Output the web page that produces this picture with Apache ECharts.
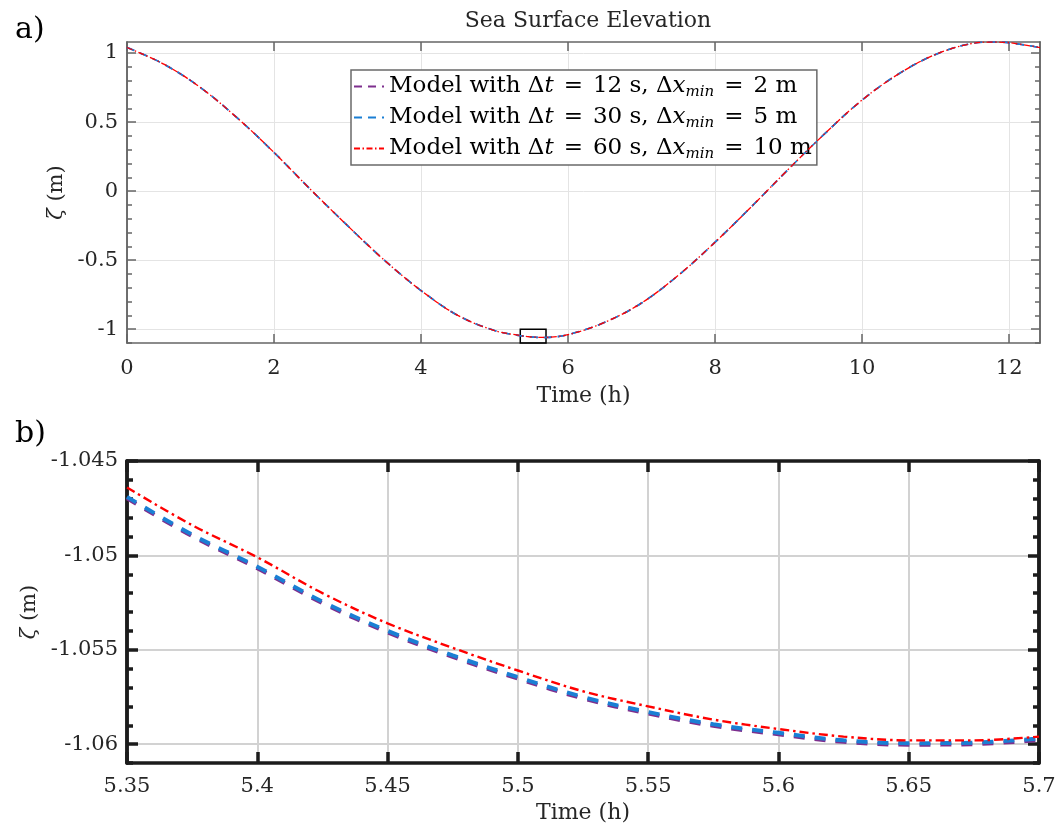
<!DOCTYPE html>
<html><head><meta charset="utf-8">
<script src="https://cdn.jsdelivr.net/npm/echarts@6/dist/echarts.min.js"></script>
<style>html,body{margin:0;padding:0;background:#fff}#c{width:1059px;height:832px}</style>
</head><body><div id="c"></div>
<script>
// ---- data ----
// Panel a: full tidal cycle (all three runs coincide at this scale)
const tFull    = [0, 0.5, 1, 1.5, 2, 2.5, 3, 3.5, 4, 4.5, 5, 5.5, 6, 6.5, 7, 7.5, 8, 8.5, 9, 9.5, 10, 10.5, 11, 11.5, 11.8, 12, 12.42];
const zetaFull = [1.04, 0.92, 0.75, 0.53, 0.28, 0.01, -0.25, -0.50, -0.72, -0.90, -1.01, -1.058, -1.04, -0.95, -0.81, -0.61, -0.37, -0.11, 0.16, 0.42, 0.66, 0.85, 0.99, 1.07, 1.08, 1.075, 1.04];
// Panel b: zoom near the trough
const tZoom      = [5.35, 5.375, 5.4, 5.425, 5.45, 5.475, 5.5, 5.525, 5.55, 5.575, 5.6, 5.625, 5.65, 5.675, 5.7];
const zetaDt12   = [-1.04698, -1.04898, -1.05068, -1.05253, -1.05408, -1.05538, -1.05653, -1.05758, -1.05838, -1.05903, -1.05948, -1.05988, -1.06003, -1.06000, -1.05978];
const zetaDt30   = [-1.0469, -1.0489, -1.0506, -1.05245, -1.0540, -1.0553, -1.05645, -1.0575, -1.0583, -1.05895, -1.0594, -1.0598, -1.05995, -1.05992, -1.0597];
const zetaDt60   = [-1.0464, -1.0484, -1.0501, -1.0520, -1.0536, -1.0549, -1.0561, -1.0572, -1.0580, -1.0587, -1.0592, -1.0596, -1.0598, -1.0598, -1.0596];
const dtValues = [12, 30, 60];
const dxValues = [2, 5, 10];
// ticks
const xTicksA = [0, 2, 4, 6, 8, 10, 12];
const yTicksA = [-1, -0.5, 0, 0.5, 1];
const yMinorA = [-1.1, -1.0, -0.9, -0.8, -0.7, -0.6, -0.5, -0.4, -0.3, -0.2, -0.1, 0, 0.1, 0.2, 0.3, 0.4, 0.5, 0.6, 0.7, 0.8, 0.9, 1.0];
const xTicksB = [5.35, 5.4, 5.45, 5.5, 5.55, 5.6, 5.65, 5.7];
const yTicksB = [-1.06, -1.055, -1.05, -1.045];
const yMinorB = [-1.061, -1.06, -1.059, -1.058, -1.057, -1.056, -1.055, -1.054, -1.053, -1.052, -1.051, -1.05, -1.049, -1.048, -1.047, -1.046, -1.045];
const rangeA = {xmin: 0, xmax: 12.42, ymin: -1.1, ymax: 1.08};
const rangeB = {xmin: 5.35, xmax: 5.7, ymin: -1.061, ymax: -1.045};
const zoomBox = [5.35, 5.7, -1.1, -1.0];

// ---- build ----
const FONT = 'DejaVu Serif';
const names = dtValues.map((dt, i) => 'Model with Δt = ' + dt + ' s, Δxmin = ' + dxValues[i] + ' m');
const zoomSets = [zetaDt12, zetaDt30, zetaDt60];
function pairs(xs, ys) { return xs.map((x, i) => [x, ys[i]]); }
function fullSeries(k) {
  const outside = pairs(tFull, zetaFull).filter(p => p[0] < tZoom[0] - 0.05 || p[0] > tZoom[tZoom.length - 1] + 0.05);
  const inside = pairs(tZoom, zoomSets[k]);
  return outside.concat(inside).sort((a, b) => a[0] - b[0]);
}
const colors = ['#7E2F8E', '#1a7fd4', '#FF0000'];
const dashTop = [[8, 6], [8, 6], [6, 2.5, 1.5, 2.5]];
const dashBot = [[11, 10], [11, 10], [9, 4, 2.5, 4]];
const widthTop = [1.6, 1.6, 1.3];
const widthBot = [4, 4, 2.4];

const axA = '#666666', gridA = '#e4e4e4';
const axB = '#1c1c1c', gridB = '#d2d2d2';
const labelStyle = (c) => ({color: c, fontFamily: FONT, fontSize: 21});

function xMain(gi, r, ticks, axc, axw, gc, gw, tlen, margin, nameGap) {
  return {type: 'value', gridIndex: gi, min: r.xmin, max: r.xmax, position: 'bottom',
    axisLine: {show: true, onZero: false, lineStyle: {color: axc, width: axw}},
    axisTick: {show: true, inside: true, length: tlen, customValues: ticks, lineStyle: {color: axc, width: axw}},
    axisLabel: Object.assign({customValues: ticks, margin: margin}, labelStyle('#262626')),
    splitLine: {show: true, lineStyle: {color: gc, width: gw}},
    name: 'Time (h)', nameLocation: 'middle', nameGap: nameGap,
    nameTextStyle: {fontFamily: FONT, fontSize: 22, color: '#262626'}};
}
function xTop(gi, r, ticks, axc, axw, tlen) {
  return {type: 'value', gridIndex: gi, min: r.xmin, max: r.xmax, position: 'top',
    axisLine: {show: true, onZero: false, lineStyle: {color: axc, width: axw}},
    axisTick: {show: true, inside: true, length: tlen, customValues: ticks, lineStyle: {color: axc, width: axw}},
    axisLabel: {show: false}, splitLine: {show: false}};
}
function yAx(gi, r, pos, ticks, axc, axw, tlen, withLabel, gc, gw, nameGap) {
  const o = {type: 'value', gridIndex: gi, min: r.ymin, max: r.ymax, position: pos,
    axisLine: {show: true, onZero: false, lineStyle: {color: axc, width: axw}},
    axisTick: {show: true, inside: true, length: tlen, customValues: ticks, lineStyle: {color: axc, width: axw}},
    axisLabel: {show: false}, splitLine: {show: false}};
  if (withLabel) {
    o.axisLabel = Object.assign({show: true, customValues: ticks, margin: 9}, labelStyle('#262626'));
    o.splitLine = {show: true, lineStyle: {color: gc, width: gw}};
    o.name = '{it|ζ} (m)'; o.nameLocation = 'middle'; o.nameGap = nameGap;
    o.nameTextStyle = {fontFamily: FONT, fontSize: 21, color: '#262626',
      rich: {it: {fontFamily: FONT, fontSize: 21, fontStyle: 'italic', color: '#262626'}}};
  }
  return o;
}

const series = [];
for (let k = 0; k < 3; k++) {
  const s = {name: names[k], type: 'line', xAxisIndex: 0, yAxisIndex: 0, data: fullSeries(k),
    smooth: 0.35, symbol: 'none', showSymbol: false, color: colors[k],
    lineStyle: {color: colors[k], width: widthTop[k], type: dashTop[k]}, z: 3 + k};
  if (k === 2) {
    s.markArea = {silent: true, itemStyle: {color: 'rgba(0,0,0,0)', borderColor: '#000', borderWidth: 1.5},
      data: [[{xAxis: zoomBox[0], yAxis: zoomBox[2]}, {xAxis: zoomBox[1], yAxis: zoomBox[3]}]]};
  }
  series.push(s);
}
for (let k = 0; k < 3; k++) {
  series.push({name: names[k], type: 'line', xAxisIndex: 2, yAxisIndex: 4, data: pairs(tZoom, zoomSets[k]),
    smooth: 0.35, symbol: 'none', showSymbol: false, color: colors[k],
    lineStyle: {color: colors[k], width: widthBot[k], type: dashBot[k]}, z: 3 + k});
}

const chart = echarts.init(document.getElementById('c'), null, {renderer: 'canvas'});
chart.setOption({
  animation: false,
  backgroundColor: '#ffffff',
  title: [
    {text: 'Sea Surface Elevation', left: 583, top: 5, textAlign: 'center',
      textStyle: {fontFamily: FONT, fontSize: 22, fontWeight: 'normal', color: '#262626'}},
    {text: 'a)', left: 10, top: 10, textStyle: {fontFamily: FONT, fontSize: 30, fontWeight: 'normal', color: '#000'}},
    {text: 'b)', left: 10, top: 414, textStyle: {fontFamily: FONT, fontSize: 30, fontWeight: 'normal', color: '#000'}}
  ],
  legend: {
    data: names, orient: 'vertical', left: 351, top: 70, selectedMode: false,
    backgroundColor: '#fff', borderColor: '#6a6a6a', borderWidth: 1.5, borderRadius: 0,
    padding: [3, 5, 3, 2], itemGap: 4, itemWidth: 30, itemHeight: 14,
    itemStyle: {opacity: 0},
    formatter: function (name) {
      const i = names.indexOf(name);
      return 'Model with Δ{it|t}{eq|=}' + dtValues[i] + ' s, Δ{it|x}{sub|min}{eq|=}' + dxValues[i] + ' m';
    },
    textStyle: {fontFamily: FONT, fontSize: 23, color: '#000', lineHeight: 26,
      rich: {
        it: {fontFamily: FONT, fontSize: 23, fontStyle: 'italic', lineHeight: 26},
        eq: {fontFamily: FONT, fontSize: 23, lineHeight: 26, padding: [0, 10, 0, 10]},
        sub: {fontFamily: FONT, fontSize: 15, fontStyle: 'italic', lineHeight: 26, padding: [12, 0, 0, 0]}
      }}
  },
  grid: [
    {left: 127, top: 42, width: 913, height: 301},
    {left: 127, top: 461, width: 912, height: 302}
  ],
  xAxis: [
    xMain(0, rangeA, xTicksA, axA, 1.5, gridA, 1, 9, 15, 42),
    xTop(0, rangeA, xTicksA, axA, 1.5, 9),
    xMain(1, rangeB, xTicksB, axB, 3.5, gridB, 2, 11, 13, 39),
    xTop(1, rangeB, xTicksB, axB, 3.5, 11)
  ],
  yAxis: [
    yAx(0, rangeA, 'left', yTicksA, axA, 1.5, 9, true, gridA, 1, 53),
    yAx(0, rangeA, 'left', yMinorA, axA, 1.5, 5, false),
    yAx(0, rangeA, 'right', yTicksA, axA, 1.5, 9, false),
    yAx(0, rangeA, 'right', yMinorA, axA, 1.5, 5, false),
    yAx(1, rangeB, 'left', yTicksB, axB, 3.5, 11, true, gridB, 2, 44),
    yAx(1, rangeB, 'left', yMinorB, axB, 3.5, 6, false),
    yAx(1, rangeB, 'right', yTicksB, axB, 3.5, 11, false),
    yAx(1, rangeB, 'right', yMinorB, axB, 3.5, 6, false)
  ],
  series: series
});
</script>
</body></html>
